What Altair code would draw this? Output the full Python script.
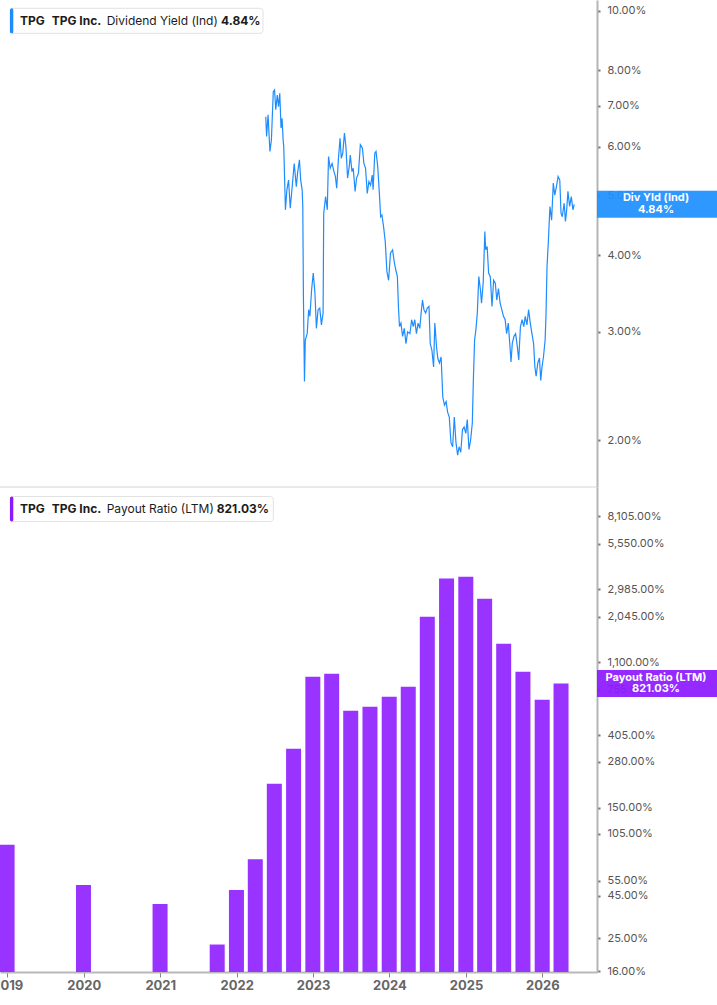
import altair as alt
import pandas as pd

# ---------------- data ----------------
TICKER = "TPG"
COMPANY = "TPG Inc."
YIELD_LABEL = "Dividend Yield (Ind)"
YIELD_BADGE = "Div Yld (Ind)"
PAYOUT_LABEL = "Payout Ratio (LTM)"

YEARS = list(range(2019, 2027))
YIELD_TICKS = [2, 3, 4, 5, 6, 7, 8, 10]
PAYOUT_TICKS = [16, 25, 45, 55, 105, 150, 280, 405, 755, 1100, 2045, 2985, 5550, 8105]

# dividend yield (Ind), time in decimal years
YIELD_YEAR = [
    2022.382, 2022.394, 2022.412, 2022.437, 2022.455, 2022.480, 2022.497, 2022.515, 2022.532, 2022.549,
    2022.566, 2022.583, 2022.596, 2022.609, 2022.618, 2022.639, 2022.660, 2022.682, 2022.703, 2022.725,
    2022.755, 2022.781, 2022.798, 2022.823, 2022.841, 2022.858, 2022.866, 2022.875, 2022.888, 2022.901,
    2022.926, 2022.943, 2022.961, 2022.982, 2023.004, 2023.025, 2023.046, 2023.068, 2023.089, 2023.111,
    2023.132, 2023.141, 2023.166, 2023.188, 2023.205, 2023.227, 2023.252, 2023.274, 2023.295, 2023.312,
    2023.334, 2023.355, 2023.372, 2023.390, 2023.411, 2023.432, 2023.454, 2023.475, 2023.488, 2023.510,
    2023.527, 2023.553, 2023.570, 2023.595, 2023.621, 2023.647, 2023.668, 2023.690, 2023.711, 2023.733,
    2023.754, 2023.776, 2023.788, 2023.810, 2023.827, 2023.848, 2023.870, 2023.887, 2023.904, 2023.926,
    2023.947, 2023.969, 2023.990, 2024.016, 2024.041, 2024.063, 2024.084, 2024.106, 2024.119, 2024.132,
    2024.153, 2024.174, 2024.196, 2024.217, 2024.239, 2024.269, 2024.290, 2024.312, 2024.333, 2024.355,
    2024.376, 2024.397, 2024.419, 2024.432, 2024.453, 2024.475, 2024.496, 2024.518, 2024.535, 2024.556,
    2024.578, 2024.595, 2024.616, 2024.633, 2024.655, 2024.676, 2024.698, 2024.719, 2024.741, 2024.762,
    2024.783, 2024.805, 2024.826, 2024.848, 2024.869, 2024.891, 2024.912, 2024.934, 2024.955, 2024.976,
    2024.998, 2025.019, 2025.041, 2025.062, 2025.084, 2025.097, 2025.114, 2025.131, 2025.148, 2025.169,
    2025.191, 2025.204, 2025.225, 2025.247, 2025.260, 2025.277, 2025.298, 2025.320, 2025.341, 2025.362,
    2025.384, 2025.405, 2025.427, 2025.448, 2025.470, 2025.491, 2025.513, 2025.534, 2025.555, 2025.577,
    2025.590, 2025.607, 2025.628, 2025.650, 2025.671, 2025.693, 2025.714, 2025.736, 2025.757, 2025.778,
    2025.800, 2025.821, 2025.843, 2025.864, 2025.886, 2025.903, 2025.920, 2025.941, 2025.963, 2025.980,
    2025.997, 2026.014, 2026.036, 2026.049, 2026.062, 2026.079, 2026.100, 2026.122, 2026.143, 2026.164,
    2026.186, 2026.207, 2026.229, 2026.246, 2026.263, 2026.285, 2026.302, 2026.319, 2026.336, 2026.358,
    2026.379, 2026.400, 2026.418,
]
YIELD_PCT = [
    6.72, 6.24, 6.77, 5.90, 6.16, 7.38, 7.43, 6.90, 7.29, 6.98,
    7.34, 6.44, 6.68, 6.16, 6.01, 4.74, 5.11, 5.30, 4.77, 5.11,
    5.64, 5.17, 5.44, 5.72, 5.30, 5.11, 4.80, 3.42, 2.49, 2.91,
    2.98, 3.26, 3.18, 3.51, 3.74, 3.47, 3.04, 3.26, 3.28, 3.08,
    3.22, 4.68, 4.98, 4.74, 5.79, 5.54, 5.64, 5.47, 5.37, 5.14,
    5.72, 6.20, 5.75, 5.86, 6.32, 6.01, 5.34, 5.58, 5.82, 5.47,
    5.54, 5.08, 5.34, 5.44, 6.05, 5.97, 5.64, 5.54, 5.04, 5.27,
    5.20, 5.40, 5.11, 5.86, 5.90, 5.58, 5.04, 4.62, 4.65, 4.45,
    4.21, 3.76, 3.64, 4.03, 4.08, 3.90, 3.79, 3.69, 3.30, 3.06,
    3.10, 2.95, 3.04, 2.87, 3.00, 2.98, 3.14, 3.06, 3.14, 2.98,
    3.10, 3.04, 3.26, 3.38, 3.26, 3.22, 3.28, 3.30, 2.87, 2.80,
    2.63, 3.10, 2.84, 2.72, 2.67, 2.73, 2.35, 2.28, 2.31, 2.22,
    2.18, 1.98, 1.95, 2.18, 1.98, 1.89, 1.95, 1.91, 2.08, 2.10,
    2.05, 2.16, 1.93, 2.00, 2.13, 2.50, 2.91, 3.02, 3.22, 3.69,
    3.51, 3.34, 3.60, 4.37, 4.08, 4.13, 3.74, 3.69, 3.30, 3.64,
    3.60, 3.38, 3.53, 3.34, 3.26, 3.18, 3.14, 2.98, 3.10, 2.84,
    2.68, 2.87, 2.95, 2.98, 2.86, 2.70, 3.06, 3.14, 3.06, 3.18,
    3.08, 3.26, 3.10, 2.98, 2.87, 2.63, 2.54, 2.67, 2.72, 2.50,
    2.63, 2.73, 2.91, 3.18, 3.83, 4.18, 4.80, 4.56, 5.24, 5.01,
    5.17, 5.37, 5.30, 4.68, 4.62, 4.86, 4.54, 4.74, 5.08, 4.80,
    4.98, 4.74, 4.84,
]

# payout ratio (LTM), %
PAYOUT_DATES = [
    "2018-12-31", "2019-12-31", "2020-12-31", "2021-09-30", "2021-12-31",
    "2022-03-31", "2022-06-30", "2022-09-30", "2022-12-31", "2023-03-31",
    "2023-06-30", "2023-09-30", "2023-12-31", "2024-03-31", "2024-06-30",
    "2024-09-30", "2024-12-31", "2025-03-31", "2025-06-30", "2025-09-30",
    "2025-12-31", "2026-03-31",
]
PAYOUT_PCT = [
    90, 52, 40, 23, 48.5,
    74, 208, 335, 900, 937,
    565, 597, 684, 785, 2048,
    3446, 3540, 2620, 1415, 963,
    656, 821.03,
]

# ---------------- style / layout ----------------
FONT = "Inter"
BLUE = "#1e8cff"
BLUE_BADGE = "#1e90ff"
PURPLE = "#9933ff"
PURPLE_BADGE = "#8c1aff"
TEXT_DARK = "#1c1c1c"

VIEW_W = 717          # whole drawing
VIEW_H = 1005
PLOT_W = 597          # x range of both panels
TOP_Y1 = 487          # bottom edge of the dividend-yield panel
BOT_Y1 = 972          # bottom edge of the payout panel
BADGE_X0, BADGE_X1 = PLOT_W, VIEW_W
BADGE_XC = (BADGE_X0 + BADGE_X1) / 2

YIELD_DOMAIN = [1.677, 10.41]
PAYOUT_DOMAIN = [15.79, 12080]


def to_date(y):
    yr = int(y)
    start = pd.Timestamp(year=yr, month=1, day=1)
    span = pd.Timestamp(year=yr + 1, month=1, day=1) - start
    return (start + span * (y - yr)).normalize()


yield_df = pd.DataFrame({"date": [to_date(y) for y in YIELD_YEAR], "value": YIELD_PCT})
payout_df = pd.DataFrame({"date": pd.to_datetime(PAYOUT_DATES), "value": PAYOUT_PCT})
last_yield = pd.DataFrame({"value": [YIELD_PCT[-1]]})
last_payout = pd.DataFrame({"value": [PAYOUT_PCT[-1]]})
one = pd.DataFrame({"k": [0]})

# shared time axis (drawn at the bottom of the lower panel)
x_enc = alt.X(
    "date:T",
    scale=alt.Scale(domain=[alt.DateTime(year=2018, month=12, date=21),
                            alt.DateTime(year=2026, month=8, date=26)],
                    range=[0, PLOT_W]),
    axis=alt.Axis(values=[alt.DateTime(year=y, month=1, date=1) for y in YEARS],
                  format="%Y", labelFont=FONT, labelFontSize=13, labelFontWeight="bold",
                  labelColor="#666666", labelPadding=2, labelFlush=5, labelFlushOffset=17,
                  labelOverlap=False, domainColor="#b8b8b8", domainWidth=2,
                  tickColor="#888888", tickSize=5, tickWidth=1, grid=False, title=None,
                  offset=BOT_Y1 - VIEW_H),
)

right_axis_common = dict(
    orient="right", offset=PLOT_W - VIEW_W, grid=False, title=None, labelFont=FONT,
    labelFontSize=11, labelColor="#555555", labelPadding=7, labelOverlap=False,
    tickSize=3, tickWidth=2, tickColor="#777777", domainColor="#b5b5b5", domainWidth=2,
)

y_top = alt.Y("value:Q",
              scale=alt.Scale(type="log", domain=YIELD_DOMAIN, range=[TOP_Y1, 0], nice=False, zero=False),
              axis=alt.Axis(values=YIELD_TICKS, labelExpr="format(datum.value, '.2f') + '%'",
                            **right_axis_common))
y_bot = alt.Y("value:Q",
              scale=alt.Scale(type="log", domain=PAYOUT_DOMAIN, range=[BOT_Y1, TOP_Y1], nice=False, zero=False),
              axis=alt.Axis(values=PAYOUT_TICKS, labelExpr="format(datum.value, ',.2f') + '%'",
                            **right_axis_common))


def badge_layers(df, y_enc, color, label, value_text, dy1, dy2):
    rect = alt.Chart(df).mark_rect(height=27, color=color, opacity=0.93).encode(
        y=y_enc, x=alt.value(BADGE_X0), x2=alt.value(BADGE_X1))
    t1 = alt.Chart(df).mark_text(font=FONT, fontSize=11, fontWeight="bold", color="white", dy=dy1).encode(
        y=y_enc, x=alt.value(BADGE_XC - 1), text=alt.value(label))
    t2 = alt.Chart(df).mark_text(font=FONT, fontSize=11, fontWeight="bold", color="white", dy=dy2).encode(
        y=y_enc, x=alt.value(BADGE_XC - 1), text=alt.value(value_text))
    return [rect, t1, t2]


def legend_layers(x_right, y0, y1, accent, label, value_text, value_x):
    ym = (y0 + y1) / 2
    box = alt.Chart(one).mark_rect(fill="white", stroke="#e2e2e2", strokeWidth=1, cornerRadius=3).encode(
        x=alt.value(10), x2=alt.value(x_right), y=alt.value(y0), y2=alt.value(y1))
    bar = alt.Chart(one).mark_rect(fill=accent, cornerRadius=2).encode(
        x=alt.value(10), x2=alt.value(13.3), y=alt.value(y0), y2=alt.value(y1))
    base = dict(font=FONT, fontSize=12, align="left", baseline="middle", color=TEXT_DARK)
    t1 = alt.Chart(one).mark_text(fontWeight="bold", **base).encode(
        x=alt.value(20), y=alt.value(ym), text=alt.value(TICKER))
    t2 = alt.Chart(one).mark_text(fontWeight="bold", **base).encode(
        x=alt.value(51.7), y=alt.value(ym), text=alt.value(COMPANY))
    t3 = alt.Chart(one).mark_text(fontWeight="normal", **base).encode(
        x=alt.value(106.7), y=alt.value(ym), text=alt.value(label))
    t4 = alt.Chart(one).mark_text(fontWeight="bold", **base).encode(
        x=alt.value(value_x), y=alt.value(ym), text=alt.value(value_text))
    return [box, bar, t1, t2, t3, t4]


# ---------------- upper panel: dividend yield ----------------
line = alt.Chart(yield_df).mark_line(color=BLUE, strokeWidth=1.2).encode(x=x_enc, y=y_top)
separator = alt.Chart(one).mark_rule(color="#d4d4d4", strokeWidth=1).encode(
    x=alt.value(0), x2=alt.value(PLOT_W), y=alt.datum(YIELD_DOMAIN[0]))

top = alt.layer(
    line, separator,
    *badge_layers(last_yield, y_top, BLUE_BADGE, YIELD_BADGE, f"{YIELD_PCT[-1]:.2f}%", -6, 6),
    *legend_layers(263, 8.3, 33.3, BLUE, YIELD_LABEL, f"{YIELD_PCT[-1]:.2f}%", 221),
)

# ---------------- lower panel: payout ratio ----------------
bars = alt.Chart(payout_df).mark_bar(width=15, color=PURPLE).encode(
    x=x_enc, y=y_bot, y2=alt.datum(PAYOUT_DOMAIN[0]))

bottom = alt.layer(
    bars,
    *badge_layers(last_payout, y_bot, PURPLE_BADGE, PAYOUT_LABEL, f"{PAYOUT_PCT[-1]:.2f}%", -5, 6),
    *legend_layers(273.3, 496.5, 521.5, PURPLE_BADGE, PAYOUT_LABEL, f"{PAYOUT_PCT[-1]:.2f}%", 216.7),
)

chart = alt.layer(top, bottom).resolve_scale(y="independent").properties(
    width=VIEW_W, height=VIEW_H,
    autosize=alt.AutoSizeParams(type="none"),
    padding=0,
    background="white",
).configure_view(stroke=None)

chart.save("out.html", embed_options={"renderer": "svg", "actions": False})
